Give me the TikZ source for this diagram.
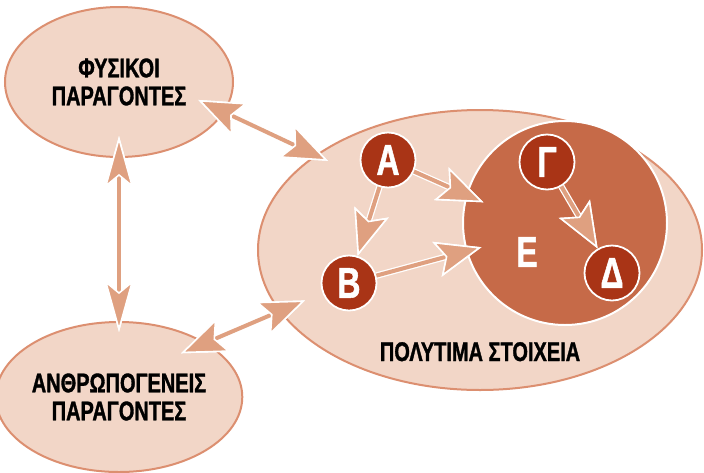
\documentclass[tikz,border=0pt]{standalone}
\usepackage{fontspec}
\newfontfamily\cond{Liberation Sans}[FakeStretch=0.74,BoldFeatures={FakeBold=1.2}]
\usetikzlibrary{arrows.meta,shapes.geometric}
\definecolor{peach}{RGB}{242,214,199}
\definecolor{rim}{RGB}{220,143,112}
\definecolor{rust}{RGB}{198,106,72}
\definecolor{brick}{RGB}{169,52,22}
\definecolor{salmon}{RGB}{223,160,128}

\begin{document}
\begin{tikzpicture}[x=1pt,y=-1pt,>={Stealth[length=46pt,width=36pt,inset=9pt,color=white,fill=salmon,line width=1.6pt]},
  factor/.style={ellipse,fill=peach,draw=rim,line width=2pt,minimum width=228pt,minimum height=150pt,inner sep=0pt,align=center,font=\cond\bfseries\fontsize{27}{28}\selectfont},
  letter/.style={circle,fill=brick,draw=white,line width=1.8pt,minimum size=55pt,inner sep=0pt,text=white,font=\cond\bfseries\fontsize{43}{43}\selectfont},
  link/.style={draw=salmon,line width=4pt,preaction={draw=white,line width=6.5pt}},
  tall/.style={>={Stealth[length=52pt,width=29pt,inset=12pt,color=white,fill=salmon,line width=1.6pt]}}]
  \useasboundingbox (0,0) rectangle (704,472);
  \node[factor] (F) at (119,82) {ΦΥΣΙΚΟΙ\\ΠΑΡΑΓΟΝΤΕΣ};
  \node[factor] (Ant) at (119,397) {ΑΝΘΡΩΠΟΓΕΝΕΙΣ\\ΠΑΡΑΓΟΝΤΕΣ};
  \node[ellipse,fill=peach,draw=rim,line width=2pt,minimum width=444pt,minimum height=280pt] (P) at (480,250) {};
  \node[anchor=base,font=\cond\bfseries\fontsize{27}{28}\selectfont] (Pt) at ([yshift=30pt]P.south) {ΠΟΛΥΤΙΜΑ ΣΤΟΙΧΕΙΑ};
  \node[circle,fill=rust,draw=white,line width=2pt,minimum size=204pt] (E) at (565,223) {};
  \node[text=white,font=\cond\bfseries\fontsize{43}{43}\selectfont] (Et) at (527,252) {Ε};
  \node[letter] (A) at (388,160) {Α};
  \node[letter] (B) at (349,283) {Β};
  \node[letter] (G) at (547,162) {Γ};
  \node[letter] (D) at (612,273) {Δ};

\path[every edge/.style={link}]
  (F.south) edge[tall,<->,shorten <=-22pt,shorten >=-11pt] (Ant.north)
  (F.-16) edge[<->,shorten <=-29pt,shorten >=-14pt] (P.150)
  (Ant.32) edge[<->,shorten <=-27pt,shorten >=-28pt] (P.-163)
  (A) edge[->,shorten >=-19pt] (E.164)
  (A) edge[->] (B)
  (B) edge[->,shorten >=-16pt] (E.196)
  (G) edge[->] (D)
;
\end{tikzpicture}
\end{document}
